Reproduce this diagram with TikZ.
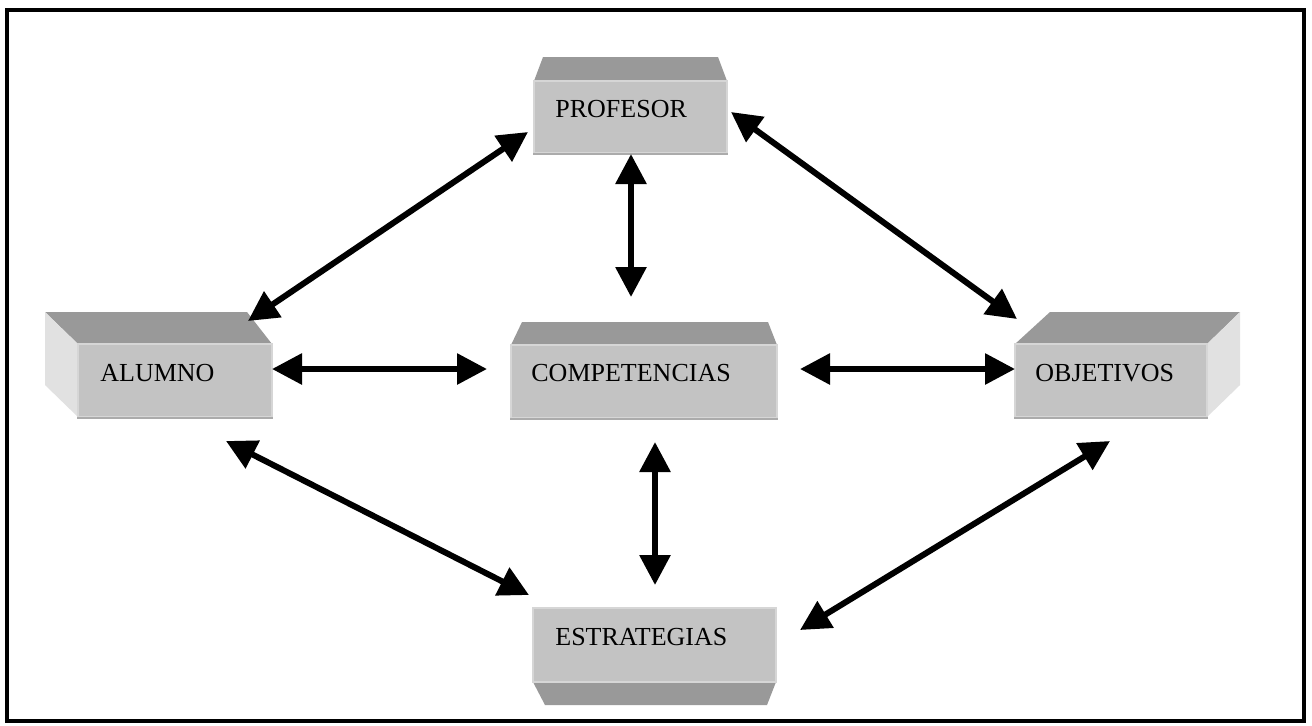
\documentclass[tikz,border=0pt]{standalone}
\usepackage{fontspec}
\setmainfont{Liberation Serif}
\usetikzlibrary{arrows.meta}
\definecolor{topgray}{HTML}{999999}
\definecolor{frontgray}{HTML}{C3C3C3}
\definecolor{sidegray}{HTML}{E1E1E1}
\definecolor{edgelight}{HTML}{D6D6D6}
\definecolor{edgedark}{HTML}{ABABAB}
\tikzset{
  facebox/.style={rectangle, fill=frontgray, draw=edgelight, line width=1pt, inner sep=0pt},
  topface/.style={fill=topgray},
  sideface/.style={fill=sidegray},
  lbl/.style={anchor=base west, inner sep=0pt, font=\fontsize{13}{15}\selectfont},
  arr/.style={line width=3pt, {Triangle[length=15pt,width=15pt]}-{Triangle[length=15pt,width=15pt]}},
}
\begin{document}
\begin{tikzpicture}[x=0.5pt,y=-0.5pt]
\useasboundingbox (0,0) rectangle (1312,725);
\fill[white] (0,0) rectangle (1312,725);
\draw[line width=2pt] (6.5,10) rectangle (1303.5,721);

% PROFESOR
\fill[topface] (543,57) -- (718,57) -- (727,81) -- (534,81) -- cycle;
\node[facebox, minimum width=96.5pt, minimum height=36pt] (prof) at (630.5,117) {};
\draw[edgedark, line width=1pt] (prof.south west) -- (prof.south east);
\node[lbl] (proft) at (555,117) {PROFESOR};

% ALUMNO
\fill[topface] (45,312) -- (247,312) -- (272,344) -- (78,344) -- cycle;
\fill[sideface] (45,312) -- (78,344) -- (78,417) -- (45,385) -- cycle;
\node[facebox, minimum width=97pt, minimum height=36.5pt] (alum) at (175,380.5) {};
\draw[edgedark, line width=1pt] (alum.south west) -- (alum.south east);
\node[lbl] (alumt) at (100,381) {ALUMNO};

% COMPETENCIAS
\fill[topface] (522,322) -- (768,322) -- (777,345) -- (511,345) -- cycle;
\node[facebox, minimum width=133pt, minimum height=36.5pt] (comp) at (644,381.5) {};
\draw[edgedark, line width=1pt] (comp.south west) -- (comp.south east);
\node[lbl] (compt) at (531,381) {COMPETENCIAS};

% OBJETIVOS
\fill[topface] (1050,312) -- (1240,312) -- (1207,344) -- (1015,344) -- cycle;
\fill[sideface] (1207,344) -- (1240,312) -- (1240,385) -- (1207,417) -- cycle;
\node[facebox, minimum width=96pt, minimum height=36.5pt] (obj) at (1111,380.5) {};
\draw[edgedark, line width=1pt] (obj.south west) -- (obj.south east);
\node[lbl] (objt) at (1035,381) {OBJETIVOS};

% ESTRATEGIAS
\fill[topface] (533,682) -- (776,682) -- (767,705) -- (545,705) -- cycle;
\node[facebox, minimum width=121.5pt, minimum height=37pt] (est) at (654.5,645) {};
\node[lbl] (estt) at (555,645) {ESTRATEGIAS};

% arrow end points
\coordinate (a1s) at (248,321);   \coordinate (a1e) at (528,132);
\coordinate (a2s) at (631,154);   \coordinate (a2e) at (631,297);
\coordinate (a3s) at (731,112);   \coordinate (a3e) at (1017,319);
\coordinate (a4s) at (272,369);   \coordinate (a4e) at (487,369);
\coordinate (a5s) at (800,369);   \coordinate (a5e) at (1015,369);
\coordinate (a6s) at (655,442);   \coordinate (a6e) at (655,585);
\coordinate (a7s) at (226,441);   \coordinate (a7e) at (529,595);
\coordinate (a8s) at (1110,441);  \coordinate (a8e) at (800,630);

\draw[arr] (a1s) -- (a1e);
\draw[arr] (a2s) -- (a2e);
\draw[arr] (a3s) -- (a3e);
\draw[arr] (a4s) -- (a4e);
\draw[arr] (a5s) -- (a5e);
\draw[arr] (a6s) -- (a6e);
\draw[arr] (a7s) -- (a7e);
\draw[arr] (a8s) -- (a8e);
\end{tikzpicture}
\end{document}
